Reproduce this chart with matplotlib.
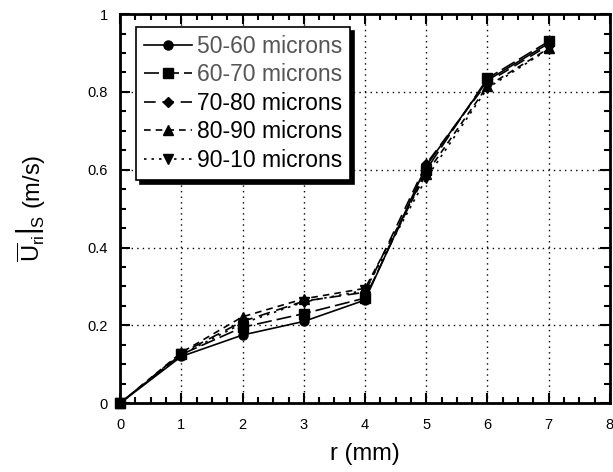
import matplotlib
matplotlib.use("Agg")
import matplotlib.pyplot as plt
from matplotlib.ticker import MultipleLocator, FuncFormatter

plt.rcParams['font.family'] = ['Liberation Sans', 'DejaVu Sans']
plt.rcParams['mathtext.fontset'] = 'custom'
plt.rcParams['mathtext.rm'] = 'Liberation Sans'
plt.rcParams['mathtext.it'] = 'Liberation Sans:italic'

r = [0, 1, 2, 3, 4, 5, 6, 7]
labels = ['50-60 microns', '60-70 microns', '70-80 microns', '80-90 microns', '90-10 microns']
s50 = [0, 0.120, 0.175, 0.210, 0.265, 0.610, 0.830, 0.925]
s60 = [0, 0.125, 0.195, 0.230, 0.270, 0.600, 0.835, 0.930]
s70 = [0, 0.128, 0.210, 0.262, 0.285, 0.615, 0.825, 0.920]
s80 = [0, 0.130, 0.222, 0.268, 0.295, 0.590, 0.815, 0.912]
s90 = [0, 0.125, 0.205, 0.260, 0.290, 0.578, 0.810, 0.910]
series = [s50, s60, s70, s80, s90]

markers = ['o', 's', 'D', '^', 'v']
msizes = [6.5, 7.5, 5, 6.5, 6.5]
styles = ['-', (0, (9, 3)), (0, (7, 4)), (0, (4, 3)), (0, (1.5, 3))]

fig = plt.figure(figsize=(6.13, 4.72), dpi=100)
ax = fig.add_axes([0.196, 0.146, 0.799, 0.824])

for y, lab, m, ms, ls in zip(series, labels, markers, msizes, styles):
    ax.plot(r, y, color='black', linestyle=ls, linewidth=1.2, marker=m,
            markersize=ms, label=lab, clip_on=False, zorder=3)

ax.set_xlim(0, 8)
ax.set_ylim(0, 1)
ax.xaxis.set_major_locator(MultipleLocator(1))
ax.xaxis.set_minor_locator(MultipleLocator(0.25))
ax.yaxis.set_major_locator(MultipleLocator(0.2))
ax.yaxis.set_minor_locator(MultipleLocator(0.05))
ax.yaxis.set_major_formatter(FuncFormatter(lambda v, p: '%g' % round(v, 2)))
ax.tick_params(which='both', direction='in', top=True, right=True, width=1.5)
ax.tick_params(which='major', length=7, labelsize=10.5, pad=9)
ax.tick_params(axis='x', which='major', pad=11)
ax.tick_params(which='minor', length=4)
for sp in ax.spines.values():
    sp.set_linewidth(2)
    sp.set_zorder(4)
ax.grid(True, which='major', linestyle=(0, (1, 3)), color='black', linewidth=1)

ax.set_xlabel('r (mm)', fontsize=17, labelpad=8)
ax.set_ylabel(r'$\left.\overline{\mathrm{U}}_{\mathrm{ri}}\right|_{\mathrm{S}}$ (m/s)', fontsize=17, labelpad=28)

leg = ax.legend(loc='upper left', bbox_to_anchor=(0.018, 0.985), fontsize=16.5,
                frameon=True, fancybox=False, shadow={'color': 'black', 'alpha': 1, 'ox': 3, 'oy': -3},
                edgecolor='black', handlelength=2.1, handletextpad=0.2,
                labelspacing=0.24, borderpad=0.35, borderaxespad=0.3)
leg.get_frame().set_linewidth(1.2)
for i, t in enumerate(leg.get_texts()):
    if i < 2:
        t.set_color('#555555')

fig.savefig('out.png', dpi=100)
